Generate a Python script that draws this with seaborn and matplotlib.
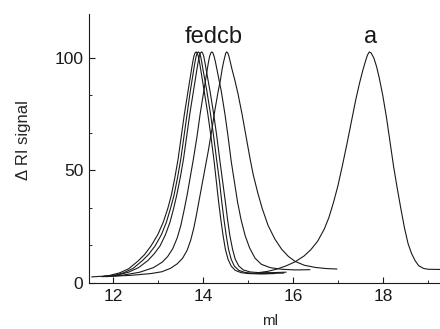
import numpy as np
import pandas as pd
import matplotlib
matplotlib.use("Agg")
import matplotlib.pyplot as plt
import seaborn as sns

# ---- data (elution volume in ml, RI signal) ----
f_x = [11.53, 11.90, 12.15, 12.35, 12.55, 12.70, 12.85, 13.00, 13.12, 13.22, 13.30, 13.38, 13.45, 13.52, 13.59, 13.67,
       13.71, 13.75, 13.775, 13.80, 13.825, 13.85,
       13.875, 13.90, 13.925, 13.95, 13.99, 14.03, 14.11, 14.18, 14.25, 14.30, 14.35, 14.40, 14.45, 14.50, 14.56,
       14.63, 14.72, 14.85, 15.00, 15.30, 15.60]
f_y = [2.7, 3.2, 4.5, 6.3, 9.6, 12.5, 16.5, 21.5, 27, 33, 39, 47, 55, 65, 75, 85,
       90, 95, 98, 100.5, 102, 102.5,
       102, 100.5, 98, 95, 90, 85, 75, 65, 54, 45, 36, 28, 21, 15, 10.5,
       7.5, 5.6, 4.6, 4.2, 4.0, 4.2]

e_x = [11.80, 12.05, 12.25, 12.45, 12.65, 12.80, 12.94, 13.08, 13.19, 13.28, 13.36, 13.44, 13.51, 13.58, 13.65, 13.72,
       13.76, 13.80, 13.825, 13.85, 13.875, 13.90,
       13.925, 13.95, 13.975, 14.00, 14.045, 14.09, 14.17, 14.24, 14.31, 14.37, 14.42, 14.47, 14.52, 14.57, 14.63,
       14.70, 14.80, 14.93, 15.10, 15.40, 15.80]
e_y = [3.0, 3.5, 4.6, 6.5, 9.8, 12.8, 16.5, 21.5, 27, 33, 39, 47, 55, 65, 75, 85,
       90, 95, 98, 100.5, 102, 102.5,
       102, 100.5, 98, 95, 90, 85, 75, 65, 54, 45, 36, 28, 21, 15, 10.5,
       7.5, 5.6, 4.7, 4.3, 4.2, 4.4]

d_x = [11.85, 12.10, 12.35, 12.57, 12.78, 12.92, 13.05, 13.17, 13.27, 13.35, 13.42, 13.50, 13.57, 13.64, 13.71, 13.79,
       13.83, 13.87, 13.895, 13.92, 13.945, 13.97,
       13.995, 14.02, 14.045, 14.07, 14.115, 14.16, 14.24, 14.31, 14.38, 14.44, 14.50, 14.55, 14.60, 14.66, 14.72,
       14.80, 14.90, 15.05, 15.25, 15.55, 15.85]
d_y = [3.0, 3.5, 4.8, 6.8, 10, 13, 16.5, 21.5, 27, 33, 39, 47, 55, 65, 75, 85,
       90, 95, 98, 100.5, 102, 102.5,
       102, 100.5, 98, 95, 90, 85, 75, 65, 54, 45, 36, 28, 21, 15, 10.5,
       7.5, 5.8, 4.9, 4.6, 4.6, 4.8]

c_x = [11.85, 12.20, 12.60, 12.90, 13.10, 13.22, 13.33, 13.43, 13.51, 13.58, 13.65, 13.72, 13.79, 13.87, 13.94, 14.02,
       14.06, 14.10, 14.125, 14.15, 14.175, 14.20,
       14.225, 14.25, 14.28, 14.31, 14.36, 14.41, 14.49, 14.56, 14.63, 14.70, 14.77, 14.85, 14.94, 15.04, 15.16,
       15.30, 15.50, 15.75, 16.05, 16.38]
c_y = [2.8, 3.4, 4.8, 6.8, 9.3, 11.8, 15.2, 20, 25.5, 32, 39, 47, 55, 65, 75, 85,
       90, 95, 98, 100.5, 102, 102.5,
       102, 100.5, 98, 95, 90, 85, 75, 65, 54, 45, 36, 28, 21, 15.5, 11,
       8.3, 6.8, 6.1, 5.8, 5.9]

b_x = [11.75, 12.40, 12.85, 13.09, 13.28, 13.43, 13.55, 13.65, 13.73, 13.80, 13.86, 13.92, 13.98, 14.05, 14.12, 14.20,
       14.27, 14.34, 14.39, 14.43, 14.46, 14.49, 14.51, 14.53,
       14.555, 14.58, 14.61, 14.645, 14.71, 14.78, 14.87, 14.96, 15.05, 15.12, 15.22, 15.32, 15.45, 15.60, 15.75,
       15.90, 16.05, 16.25, 16.50, 16.75, 16.98]
b_y = [2.8, 3.4, 4.2, 5.0, 6.5, 8.5, 11, 14.5, 19, 24.5, 30.5, 37, 43.5, 51, 58.5, 68,
       77, 85, 90, 95, 98, 100.5, 102, 102.5,
       102, 100.5, 98, 95, 90, 84, 75, 65, 55, 48, 40, 33, 25.5, 19.5, 15,
       11.8, 9.6, 7.9, 6.9, 6.4, 6.2]

a_x = [15.20, 15.45, 15.65, 15.85, 16.05, 16.25, 16.40, 16.55, 16.70, 16.80, 16.90, 17.00, 17.10, 17.20, 17.30, 17.40,
       17.48, 17.55, 17.62, 17.66, 17.70,
       17.74, 17.80, 17.86, 17.92, 18.00, 18.08, 18.16, 18.24, 18.32, 18.40, 18.48, 18.56, 18.64, 18.72, 18.80,
       18.90, 19.00, 19.30]
a_y = [4.5, 5.2, 6.2, 7.6, 9.4, 12.0, 14.8, 18.5, 24.0, 29.0, 35.5, 43.0, 52.0, 61.5, 71.5, 81.5,
       88.5, 94.0, 98.8, 101.2, 102.5,
       102.0, 99.8, 96.0, 91.0, 83.0, 73.5, 62.5, 51.5, 42.0, 33.0, 24.5, 17.5, 13.0, 9.8, 7.6,
       6.5, 6.1, 6.0]

curve_names = ["f", "e", "d", "c", "b", "a"]
curve_xs = [f_x, e_x, d_x, c_x, b_x, a_x]
curve_ys = [f_y, e_y, d_y, c_y, b_y, a_y]

x_ticks = [12, 14, 16, 18]
y_ticks = [0, 50, 100]

df = pd.concat(
    [pd.DataFrame({"ml": xs, "signal": ys, "curve": n}) for n, xs, ys in zip(curve_names, curve_xs, curve_ys)],
    ignore_index=True,
)

sns.set_style("ticks")
plt.rcParams["font.family"] = ["Liberation Sans", "DejaVu Sans"]

fig = plt.figure(figsize=(4.4, 3.29), dpi=100)
ax = fig.add_axes([0.2023, 0.1398, 0.7977, 0.8176])

sns.lineplot(data=df, x="ml", y="signal", hue="curve", units="curve", estimator=None,
             palette={n: "#1a1a1a" for n in curve_names}, linewidth=0.8, legend=False,
             sort=False, ax=ax)

ax.set_xlim(11.47, 19.27)
ax.set_ylim(0, 119.3)
ax.set_xticks(x_ticks)
ax.set_yticks(y_ticks)
ax.set_xticks([13, 15, 17, 19], minor=True)
ax.set_yticks([16.67, 33.33, 66.67, 83.33], minor=True)
ax.tick_params(axis="both", which="major", direction="in", length=4, width=0.8, labelsize=12.5, pad=4, colors="#1a1a1a")
ax.tick_params(axis="both", which="minor", direction="in", length=2.5, width=0.7)
for s in ["top", "right"]:
    ax.spines[s].set_visible(False)
for s in ["left", "bottom"]:
    ax.spines[s].set_linewidth(0.8)
    ax.spines[s].set_color("#1a1a1a")

ax.set_xlabel("ml", fontsize=11)
ax.set_ylabel("Δ RI signal", fontsize=12)
ax.xaxis.set_label_coords(0.516, -0.115)
ax.yaxis.set_label_coords(-0.165, 0.53)

ax.text(14.24, 106.3, "fedcb", ha="center", va="baseline", fontsize=17, color="#1a1a1a")
ax.text(17.72, 106.3, "a", ha="center", va="baseline", fontsize=17, color="#1a1a1a")

fig.savefig("out.png", dpi=100)
